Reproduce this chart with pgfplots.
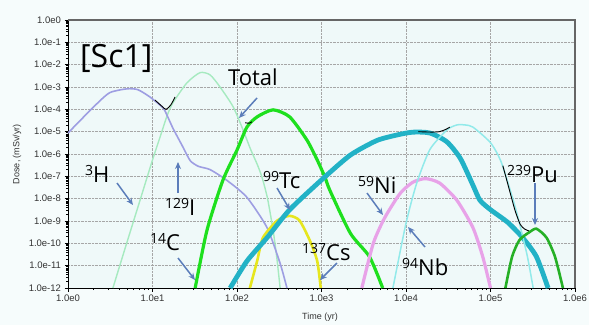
\documentclass[border=0pt]{standalone}
\usepackage{fontspec}
\setmainfont{Liberation Sans}
\newfontfamily\annfont{Open Sans}
\usepackage{pgfplots}
\pgfplotsset{compat=1.18}
\usetikzlibrary{arrows.meta}
\definecolor{bgout}{HTML}{F6FCFC}
\definecolor{bgplot}{HTML}{EFF9F9}
\definecolor{cPurple}{HTML}{9E9EE2}
\definecolor{cLgreen}{HTML}{A6EAC0}
\definecolor{cGreen}{HTML}{1EE01E}
\definecolor{cYellow}{HTML}{E6E61E}
\definecolor{cCyan}{HTML}{22B2C6}
\definecolor{cPink}{HTML}{E8A2E8}
\definecolor{cLcyan}{HTML}{92EAEA}
\definecolor{cPu}{HTML}{26B026}
\definecolor{arrowc}{HTML}{5B7DBA}
\newcommand{\iso}[2]{\raisebox{6.5pt}{\fontsize{14}{14}\selectfont #1}#2}
\gdef\yminorlist{}
\foreach \e in {-12,...,-1}{\foreach \m in {2,...,9}{\xdef\yminorlist{\yminorlist\m e\e,}}}
\gdef\xminorlist{}
\foreach \e in {0,...,5}{\foreach \m in {2,...,9}{\xdef\xminorlist{\xminorlist\m e\e,}}}
\begin{document}
\begin{tikzpicture}[x=1pt,y=1pt]
\fill[bgout] (-68,-37) rectangle (521,288);
\begin{axis}[
  at={(0,0)}, anchor=south west,
  scale only axis, width=507pt, height=268pt,
  xmode=log, ymode=log,
  xmin=1, xmax=1e6, ymin=1e-12, ymax=1,
  axis background/.style={fill=bgplot},
  axis lines=left, axis line style={-, black, line width=0.8pt},
  xtick={1,10,100,1000,10000,100000,1000000},
  xticklabels={1.0e0,1.0e1,1.0e2,1.0e3,1.0e4,1.0e5,1.0e6},
  ytick={1e-12,1e-11,1e-10,1e-9,1e-8,1e-7,1e-6,1e-5,1e-4,1e-3,1e-2,1e-1,1},
  yticklabels={1.0e-12,1.0e-11,1.0e-10,1.0e-9,1.0e-8,1.0e-7,1.0e-6,1.0e-5,1.0e-4,1.0e-3,1.0e-2,1.0e-1,1.0e0},
  minor xtick/.expanded={\xminorlist 2e6},
  minor ytick/.expanded={\yminorlist 2},
  tick align=outside,
  major tick length=3.5pt, minor tick length=2pt,
  every tick/.style={black, line width=0.6pt},
  grid=major, major grid style={densely dotted, gray!70, line width=0.6pt},
  ticklabel style={font=\fontsize{9.5}{10}\selectfont, text=black!80},
  /pgf/number format/assume math mode=true,
  clip=true,
]
% light green (3H)
\addplot[cLgreen, line width=1.4pt, smooth, tension=0.4] coordinates {
 (3.4,1e-12) (5,1.15e-10) (7,6.9e-9) (10,5.4e-7) (12.3,5.8e-6) (15,5.6e-5) (17.5,2.0e-4)
 (25.6,1.55e-3) (36.5,4.4e-3) (48,3.5e-3) (63,1.0e-3) (90,1.3e-4) (118,1.2e-5)
 (145,1.6e-6) (175,3.2e-7) (200,7.9e-8) (230,1e-8) (267,4e-10) (295,2.5e-11) (324,1e-12)};
% purple (129I)
\addplot[cPurple, line width=1.6pt, smooth, tension=0.4] coordinates {
 (1,8.7e-6) (2,1.26e-4) (3.1,5.5e-4) (5,8.3e-4) (6.7,7.6e-4) (9.3,3.6e-4) (13.3,1.17e-4)
 (15,5e-5) (17.5,1.4e-5) (23,2.0e-6) (28,5.0e-7) (35,2.8e-7) (48,2.0e-7) (76,6.6e-8)
 (131,1.15e-8) (227,5.0e-10) (324,1.26e-11) (390,1e-12)};
% bright green (14C)
\addplot[cGreen, line width=3.2pt, smooth, tension=0.4] coordinates {
 (32,1e-12) (44,3.7e-10) (68,6.6e-8) (100,1.5e-6) (131,1.6e-5) (173,4.6e-5) (267,9.5e-5)
 (420,4.6e-5) (670,4.3e-6) (890,5.4e-7) (1100,9.1e-8) (1260,2.3e-8) (2200,2.8e-10)
 (3700,2.5e-11) (5300,1e-12)};
% yellow (137Cs)
\addplot[cYellow, line width=2.6pt, smooth, tension=0.4] coordinates {
 (142,1e-12) (173,1.6e-11) (203,1.8e-10) (300,1.05e-9) (420,1.7e-9) (550,1.05e-9)
 (730,1.3e-10) (890,1.6e-11) (980,1e-12)};
% thick cyan (99Tc)
\addplot[cCyan, line width=4.8pt, smooth, tension=0.4] coordinates {
 (83,1e-12) (131,1.6e-11) (227,1.8e-10) (420,3.2e-9) (1040,7.9e-8) (2200,9e-7)
 (4500,4e-6) (7800,7.1e-6) (12000,9.5e-6) (19200,8.7e-6) (30500,3.5e-6) (44000,6.3e-7)
 (62000,4e-8) (75000,8.5e-9) (100000,3.2e-9) (160000,8.7e-10) (240000,1.8e-10)
 (350000,2.5e-11) (480000,1e-12)};
% pink (59Ni)
\addplot[cPink, line width=3.2pt, smooth, tension=0.4] coordinates {
 (3000,1e-12) (4100,1e-10) (5600,1.4e-9) (8500,1.7e-8) (12000,5.4e-8) (17000,7.9e-8)
 (25000,5e-8) (40000,8.5e-9) (62000,5e-10) (81000,2.5e-11) (100000,1e-12)};
% light cyan (94Nb)
\addplot[cLcyan, line width=1.5pt, smooth, tension=0.4] coordinates {
 (7000,1e-12) (10000,7.9e-10) (13400,5e-8) (19200,1.6e-6) (30500,1.2e-5) (40000,2e-5)
 (50000,2e-5) (62000,1.6e-5) (100000,3.2e-6) (135000,4e-7) (200000,3.2e-9)
 (270000,3.2e-11) (320000,1e-12)};
% 239Pu
\addplot[cPu, line width=2.6pt, smooth, tension=0.4] coordinates {
 (150000,1e-12) (180000,2.5e-11) (220000,1.4e-10) (290000,3.2e-10) (350000,4.5e-10)
 (460000,1.8e-10) (580000,2.5e-11) (720000,1e-12)};
% total (visible parts)
\addplot[black, line width=0.9pt, smooth, tension=0.5] coordinates {
 (10.7,2.6e-4) (13,1.35e-4) (14.5,1.0e-4) (16.5,1.6e-4) (18.5,3.6e-4)};
\addplot[black, line width=0.9pt, smooth] coordinates {
 (125,2.5e-5) (140,2.4e-5) (150,2.8e-5)};
\addplot[black, line width=0.9pt, smooth] coordinates {
 (14000,1.0e-5) (20000,9.6e-6) (25000,1.0e-5) (30000,1.3e-5) (33000,1.6e-5)};
\addplot[black, line width=0.9pt, smooth, tension=0.4] coordinates {
 (140000,3e-7) (165000,3e-8) (195000,3e-9) (225000,7e-10) (255000,4.3e-10) (285000,3.6e-10)};
\end{axis}
% frame top/right
\draw[gray!80!black, line width=1.3pt] (0,268) -- (507,268) -- (507,0);
% axis titles
\node[rotate=90, font=\fontsize{9}{10}\selectfont, text=black!80] at (-51,134) {Dose, (mSv/yr)};
\node[font=\fontsize{9}{10}\selectfont, text=black!80] at (252,-29) {Time (yr)};
% annotations
\begin{scope}[every node/.style={anchor=base west, inner sep=0pt, font=\annfont\fontsize{22}{22}\selectfont, text=black}]
\node[font=\annfont\fontsize{32}{32}\selectfont] at (12,221) {[Sc1]};
\node at (160,203) {Total};
\node at (17,106) {\iso{3}{H}};
\node at (97,73) {\iso{129}{I}};
\node at (82,38) {\iso{14}{C}};
\node at (195,100) {\iso{99}{Tc}};
\node at (234,28) {\iso{137}{Cs}};
\node at (290,95) {\iso{59}{Ni}};
\node at (334,13) {\iso{94}{Nb}};
\node at (439,106) {\iso{239}{Pu}};
\end{scope}
\begin{scope}[arrowc, line width=1.5pt, -{Stealth[length=7pt,width=6pt]}]
\draw (189,190) -- (171,170);
\draw (49,105) -- (65,83);
\draw (110,95) -- (110,126);
\draw (110,30) -- (127,8);
\draw (209,100) -- (222,78);
\draw (269,25) -- (252,8);
\draw (299,95) -- (315,73);
\draw (357,41) -- (340,61);
\draw (467,105) -- (467,63);
\end{scope}
\pgfresetboundingbox
\path (-68,-37) rectangle (521,288);
\end{tikzpicture}
\end{document}
